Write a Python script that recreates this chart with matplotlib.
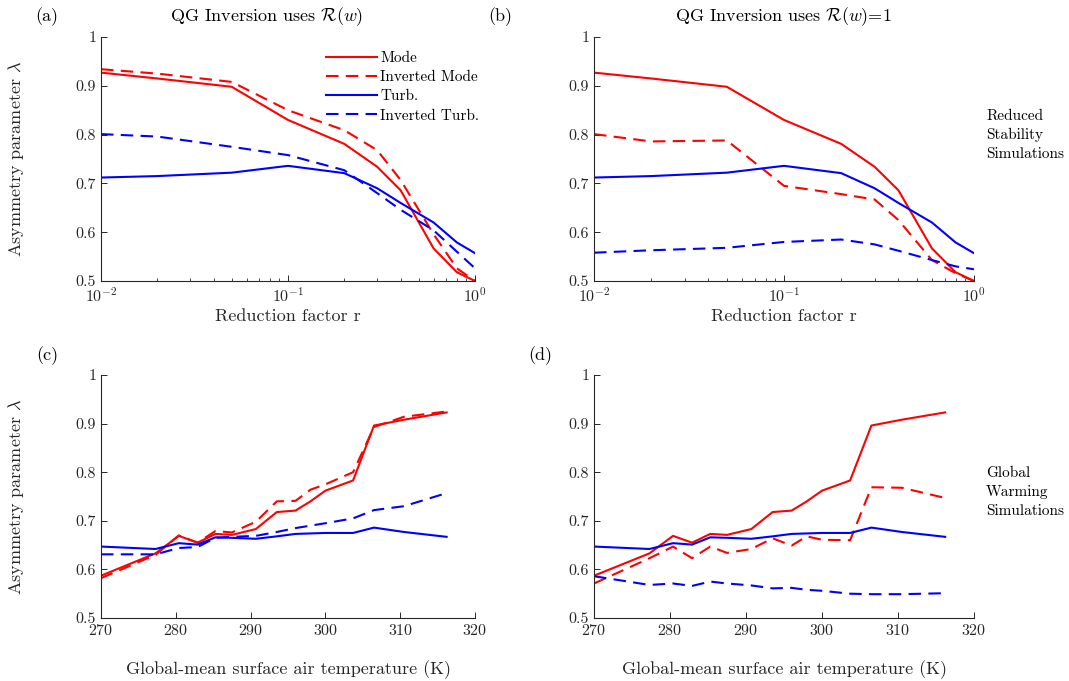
import matplotlib
matplotlib.use("Agg")
import matplotlib.pyplot as plt
from matplotlib.ticker import FixedLocator, FixedFormatter, LogLocator, NullFormatter

plt.rcParams['font.family'] = ['cmr10', 'DejaVu Serif']
plt.rcParams['mathtext.fontset'] = 'cm'
plt.rcParams['axes.formatter.use_mathtext'] = True
plt.rcParams['axes.unicode_minus'] = False

# ---------------- data ----------------
r_vals = [0.01, 0.02, 0.05, 0.1, 0.2, 0.3, 0.4, 0.6, 0.8, 1.0]
mode_r = [0.927, 0.915, 0.898, 0.830, 0.781, 0.734, 0.686, 0.567, 0.518, 0.500]
turb_r = [0.712, 0.715, 0.722, 0.736, 0.721, 0.690, 0.660, 0.620, 0.579, 0.557]
inv_mode_r_a = [0.934, 0.925, 0.908, 0.850, 0.809, 0.768, 0.707, 0.596, 0.526, 0.500]
inv_turb_r_a = [0.801, 0.796, 0.775, 0.758, 0.727, 0.680, 0.646, 0.604, 0.560, 0.526]
inv_mode_r_b = [0.801, 0.786, 0.788, 0.695, 0.678, 0.667, 0.625, 0.543, 0.516, 0.500]
inv_turb_r_b = [0.558, 0.563, 0.568, 0.580, 0.585, 0.575, 0.562, 0.543, 0.530, 0.524]

temps = [270, 277.3, 280.4, 282.9, 285.3, 287.5, 290.7, 293.5, 296.0, 298.0,
         300.0, 303.7, 306.5, 310.5, 316.2]
mode_t = [0.587, 0.633, 0.669, 0.655, 0.673, 0.671, 0.683, 0.718, 0.721, 0.740,
          0.762, 0.783, 0.896, 0.908, 0.923]
turb_t = [0.647, 0.642, 0.654, 0.651, 0.666, 0.665, 0.663, 0.668, 0.673, 0.674,
          0.675, 0.675, 0.686, 0.677, 0.667]
inv_mode_t_c = [0.582, 0.630, 0.670, 0.655, 0.679, 0.676, 0.698, 0.740, 0.741, 0.764,
                0.775, 0.800, 0.893, 0.914, 0.925]
inv_turb_t_c = [0.631, 0.631, 0.644, 0.646, 0.665, 0.667, 0.669, 0.677, 0.685, 0.690,
                0.695, 0.705, 0.722, 0.730, 0.757]
inv_mode_t_d = [0.571, 0.623, 0.647, 0.623, 0.647, 0.634, 0.642, 0.664, 0.649, 0.668,
                0.661, 0.660, 0.769, 0.768, 0.747]
inv_turb_t_d = [0.586, 0.568, 0.571, 0.566, 0.575, 0.571, 0.567, 0.561, 0.562, 0.558,
                0.556, 0.550, 0.549, 0.549, 0.551]

y_ticks = [0.5, 0.6, 0.7, 0.8, 0.9, 1.0]
y_ticklabels = ['0.5', '0.6', '0.7', '0.8', '0.9', '1']
t_ticks = [270, 280, 290, 300, 310, 320]
legend_labels = ['Mode', 'Inverted Mode', 'Turb.', 'Inverted Turb.']

# ---------------- figure ----------------
W, H = 1069, 681
fig = plt.figure(figsize=(W / 100, H / 100), dpi=100)

def px_axes(x0, y0, x1, y1):
    return fig.add_axes([x0 / W, 1 - y1 / H, (x1 - x0) / W, (y1 - y0) / H])

ax_a = px_axes(101, 37, 475, 281)
ax_b = px_axes(594, 37, 974, 281)
ax_c = px_axes(101, 375, 475, 618)
ax_d = px_axes(594, 375, 974, 618)

gray = '#262626'
lw = 1.5
dash = (0, (6, 3.5))

def style(ax):
    for s in ['top', 'right']:
        ax.spines[s].set_visible(False)
    for s in ['left', 'bottom']:
        ax.spines[s].set_color(gray)
        ax.spines[s].set_linewidth(0.8)
    ax.tick_params(which='both', direction='in', colors=gray, labelsize=11.5)
    ax.tick_params(which='major', length=4.5, width=0.7)
    ax.tick_params(which='minor', length=2.5, width=0.6)
    ax.set_ylim(0.5, 1.0)
    ax.yaxis.set_major_locator(FixedLocator(y_ticks))
    ax.yaxis.set_major_formatter(FixedFormatter(y_ticklabels))

for ax, im, it in [(ax_a, inv_mode_r_a, inv_turb_r_a), (ax_b, inv_mode_r_b, inv_turb_r_b)]:
    ax.plot(r_vals, mode_r, color='red', lw=lw, label=legend_labels[0])
    ax.plot(r_vals, im, color='red', lw=lw, ls=dash, label=legend_labels[1])
    ax.plot(r_vals, turb_r, color='blue', lw=lw, label=legend_labels[2])
    ax.plot(r_vals, it, color='blue', lw=lw, ls=dash, label=legend_labels[3])
    ax.set_xscale('log')
    ax.set_xlim(0.01, 1.0)
    ax.xaxis.set_major_locator(LogLocator(base=10, numticks=5))
    ax.xaxis.set_minor_locator(LogLocator(base=10, subs=list(range(2, 10)), numticks=12))
    ax.xaxis.set_minor_formatter(NullFormatter())
    style(ax)
    ax.set_xlabel('Reduction factor r', fontsize=13, color=gray, labelpad=3)

for ax, im, it in [(ax_c, inv_mode_t_c, inv_turb_t_c), (ax_d, inv_mode_t_d, inv_turb_t_d)]:
    ax.plot(temps, mode_t, color='red', lw=lw)
    ax.plot(temps, im, color='red', lw=lw, ls=dash)
    ax.plot(temps, turb_t, color='blue', lw=lw)
    ax.plot(temps, it, color='blue', lw=lw, ls=dash)
    ax.set_xlim(270, 320)
    ax.xaxis.set_major_locator(FixedLocator(t_ticks))
    style(ax)
    ax.set_xlabel('Global-mean surface air temperature (K)', fontsize=13,
                  color=gray, labelpad=16)

for ax in (ax_a, ax_c):
    ax.set_ylabel(r'Asymmetry parameter $\lambda$', fontsize=13, color=gray)
    ax.yaxis.set_label_coords(-0.2, 0.5)

leg = ax_a.legend(loc='upper left', bbox_to_anchor=(0.602, 0.94), frameon=False,
                  fontsize=11, handlelength=3.3, handletextpad=0.25,
                  labelspacing=0.35, borderpad=0, borderaxespad=0)

# titles and panel labels
fig.text(267 / W, 1 - 17 / H, r'QG Inversion uses $\mathcal{R}(w)$', ha='center', va='center',
         fontsize=13)
fig.text(783 / W, 1 - 17 / H, r'QG Inversion uses $\mathcal{R}(w)$=1', ha='center', va='center',
         fontsize=13)
for lab, x, y in [('(a)', 47, 17), ('(b)', 500, 17), ('(c)', 47, 356), ('(d)', 540, 356)]:
    fig.text(x / W, 1 - y / H, lab, ha='center', va='center', fontsize=13)

fig.text(986 / W, 1 - 135 / H, 'Reduced\nStability\nSimulations', ha='left', va='center',
         fontsize=11, linespacing=1.45)
fig.text(986 / W, 1 - 492 / H, 'Global\nWarming\nSimulations', ha='left', va='center',
         fontsize=11, linespacing=1.45)

fig.savefig('out.png', dpi=100)
